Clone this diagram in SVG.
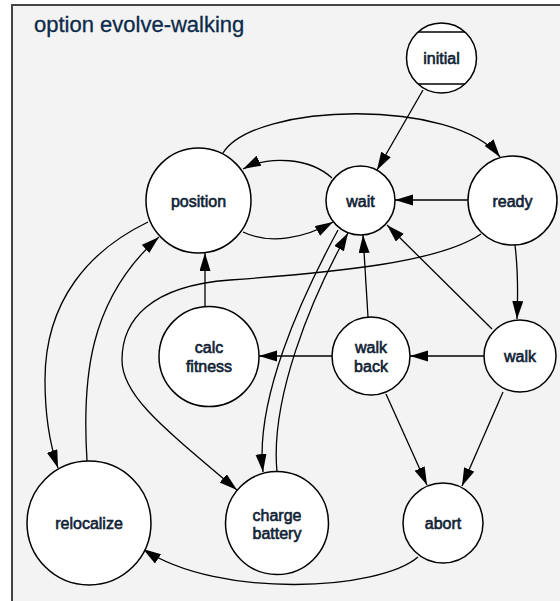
<svg xmlns="http://www.w3.org/2000/svg" width="560" height="601" viewBox="0 0 560 601">
<style>
.node{fill:#ffffff;stroke:#000000;stroke-width:1.5}
.lbl{font-family:"Liberation Sans",Arial,sans-serif;font-size:16px;fill:#0f2234;stroke:#0f2234;stroke-width:0.6;text-anchor:middle}
.title{font-family:"Liberation Sans",Arial,sans-serif;font-size:22px;fill:#0c2a4a;stroke:#0c2a4a;stroke-width:0.3}
.edge{fill:none;stroke:#000000;stroke-width:1.3;marker-end:url(#arr)}
</style>
<defs>
<marker id="arr" markerUnits="userSpaceOnUse" markerWidth="19" markerHeight="12" refX="18" refY="5.5" orient="auto">
<path d="M0,0 L18,5.5 L0,11 z" fill="#000000"/>
</marker>
</defs>
<rect x="0" y="0" width="560" height="601" fill="#ffffff"/>
<rect x="12" y="5" width="560" height="610" fill="#f3f3f3" stroke="#444444" stroke-width="2"/>
<text class="title" x="34" y="32">option evolve-walking</text>
<g id="connectors">
<path class="edge" d="M423,90 L377,170"/>
<path class="edge" d="M223,153 C255,102 455,98 500,157"/>
<path class="edge" d="M332,178 C310,158 270,155 243,169"/>
<path class="edge" d="M243,232 C270,245 305,238 333,222"/>
<path class="edge" d="M468,200 L395,200"/>
<path class="edge" d="M481,234 C440,262 340,272 230,280 C150,286 122,320 122,360 C122,395 160,425 237,490"/>
<path class="edge" d="M338,230 C300,300 255,400 263,472"/>
<path class="edge" d="M277,472 C270,400 310,300 348,233"/>
<path class="edge" d="M368,317 L363,235"/>
<path class="edge" d="M492,329 L387,225"/>
<path class="edge" d="M515,245 C518,270 518,295 517,319"/>
<path class="edge" d="M484,356 L410,356"/>
<path class="edge" d="M332,356 L259,356"/>
<path class="edge" d="M205,307 L205,253"/>
<path class="edge" d="M148,222 C90,250 45,300 45,380 C45,420 50,445 58,468"/>
<path class="edge" d="M87,461 C82,380 88,300 159,237"/>
<path class="edge" d="M418,557 C380,590 220,600 143,549"/>
<path class="edge" d="M386,394 L427,485"/>
<path class="edge" d="M503,392 L462,486"/>
</g>
<g id="initial">
<circle class="node" cx="441.5" cy="58" r="35"/>
<line x1="418" y1="32" x2="465" y2="32" stroke="#000" stroke-width="1.5"/>
<line x1="418" y1="84" x2="465" y2="84" stroke="#000" stroke-width="1.5"/>
<text class="lbl" x="441.5" y="64">initial</text>
</g>
<g id="position">
<circle class="node" cx="198.5" cy="200.5" r="52.5"/>
<text class="lbl" x="198.5" y="206.5">position</text>
</g>
<g id="wait">
<circle class="node" cx="360.5" cy="200.5" r="34.5"/>
<text class="lbl" x="360.5" y="206.5">wait</text>
</g>
<g id="ready">
<circle class="node" cx="512.5" cy="200.5" r="44.5"/>
<text class="lbl" x="512.5" y="206.5">ready</text>
</g>
<g id="calc-fitness">
<circle class="node" cx="209" cy="356.5" r="50"/>
<text class="lbl" x="209" y="352.5">calc</text>
<text class="lbl" x="209" y="371.5">fitness</text>
</g>
<g id="walk-back">
<circle class="node" cx="371" cy="356" r="39"/>
<text class="lbl" x="371" y="352.5">walk</text>
<text class="lbl" x="371" y="371.5">back</text>
</g>
<g id="walk">
<circle class="node" cx="520" cy="356" r="36"/>
<text class="lbl" x="520" y="362">walk</text>
</g>
<g id="relocalize">
<circle class="node" cx="89" cy="523" r="62"/>
<text class="lbl" x="89" y="528.5">relocalize</text>
</g>
<g id="charge-battery">
<circle class="node" cx="277" cy="523" r="51.5"/>
<text class="lbl" x="277" y="520.5">charge</text>
<text class="lbl" x="277" y="538.5">battery</text>
</g>
<g id="abort">
<circle class="node" cx="443" cy="523" r="40"/>
<text class="lbl" x="443" y="528.5">abort</text>
</g>
</svg>
